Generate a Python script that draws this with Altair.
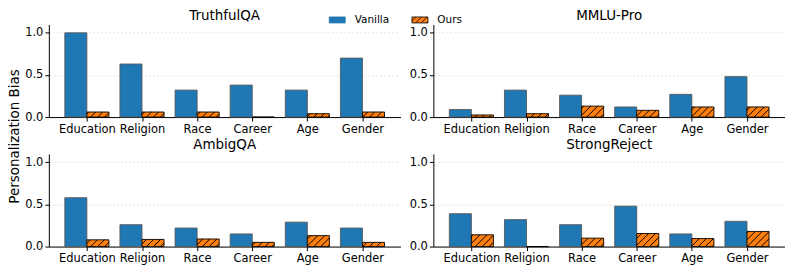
import json
import math
import altair as alt
import pandas as pd

# ---------------- data ----------------
categories = ["Education", "Religion", "Race", "Career", "Age", "Gender"]
methods = ["Vanilla", "Ours"]
datasets = ["TruthfulQA", "MMLU-Pro", "AmbigQA", "StrongReject"]

truthfulqa_vanilla = [1.00, 0.63, 0.32, 0.38, 0.32, 0.70]
truthfulqa_ours = [0.06, 0.06, 0.06, 0.00, 0.04, 0.06]

mmlupro_vanilla = [0.09, 0.32, 0.26, 0.12, 0.27, 0.48]
mmlupro_ours = [0.025, 0.04, 0.13, 0.08, 0.12, 0.12]

ambigqa_vanilla = [0.58, 0.26, 0.22, 0.15, 0.29, 0.22]
ambigqa_ours = [0.08, 0.085, 0.09, 0.05, 0.13, 0.05]

strongreject_vanilla = [0.39, 0.32, 0.26, 0.48, 0.15, 0.30]
strongreject_ours = [0.14, 0.00, 0.10, 0.155, 0.095, 0.18]

y_ticks = [0.0, 0.5, 1.0]
y_title = "Personalization Bias"

# ---------------- layout / style ----------------
W, H = 353, 93
BAR_W = 0.4
XMIN, XMAX = -0.69, 5.69
YMAX = 1.1
SX = W / (XMAX - XMIN)
SY = H / YMAX
HATCH_S = 7.0  # px between hatch lines (horizontal)
BLUE, ORANGE = "#1f77b4", "#ff7f0e"
FONT = "DejaVu Sans"

label_expr = json.dumps(categories) + "[datum.value]"


def bar_rows(van, ours):
    rows = []
    for i, (v, o) in enumerate(zip(van, ours)):
        rows.append({"cat": categories[i], "method": methods[0], "value": v,
                     "x0": i - BAR_W, "x1": i})
        rows.append({"cat": categories[i], "method": methods[1], "value": o,
                     "x0": i, "x1": i + BAR_W})
    return pd.DataFrame(rows)


def hatch_rows(ours):
    rows = []
    for i, h in enumerate(ours):
        X0 = (i - XMIN) * SX
        X1 = X0 + BAR_W * SX
        Yh = h * SY
        kmin = math.floor((X0 - Yh) / HATCH_S)
        kmax = math.ceil(X1 / HATCH_S)
        for k in range(kmin, kmax + 1):
            c = k * HATCH_S
            a = max(X0, c)
            b = min(X1, Yh + c)
            if b - a > 0.6:
                rows.append({"hx0": a / SX + XMIN, "hx1": b / SX + XMIN,
                             "hy0": (a - c) / SY, "hy1": (b - c) / SY})
    if not rows:
        rows.append({"hx0": 0, "hx1": 0, "hy0": 0, "hy1": 0})
    return pd.DataFrame(rows)


van_path = "M-1,-0.375H1V0.375H-1Z"
ours_path = ("M-1,-0.375H1V0.375H-1Z"
             "M-1,0.125L-0.5,-0.375"
             "M-0.55,0.375L0.2,-0.375"
             "M0.15,0.375L0.9,-0.375"
             "M0.85,0.375L1,0.225")

legend = alt.Legend(
    title=None, orient="none", legendX=281, legendY=-13, direction="horizontal",
    symbolSize=256, symbolOpacity=1, symbolStrokeWidth=0.8,
    labelFont=FONT, labelFontSize=10.5, labelColor="black",
    labelOffset=9, columnPadding=20,
)


def panel(title, van, ours, show_ytitle):
    xs = alt.Scale(domain=[XMIN, XMAX], nice=False, zero=False, padding=0)
    ys = alt.Scale(domain=[0, YMAX], nice=False, padding=0)
    xaxis = alt.Axis(values=list(range(len(categories))), labelExpr=label_expr,
                     title=None, grid=False)
    if show_ytitle:
        yaxis = alt.Axis(values=y_ticks, format=".1f", title=y_title, grid=True,
                         gridDash=[2, 2], gridColor="#dddddd", gridWidth=0.8,
                         titleX=-27, titleY=112)
    else:
        yaxis = alt.Axis(values=y_ticks, format=".1f", title=None, grid=True,
                         gridDash=[2, 2], gridColor="#dddddd", gridWidth=0.8)
    fill = alt.Fill("method:N", scale=alt.Scale(domain=methods, range=[BLUE, ORANGE]),
                    legend=legend)
    bars = alt.Chart(bar_rows(van, ours)).mark_bar(strokeWidth=0.9).encode(
        x=alt.X("x0:Q", scale=xs, axis=xaxis),
        x2="x1:Q",
        y=alt.Y("value:Q", scale=ys, axis=yaxis),
        y2=alt.datum(0),
        fill=fill,
        stroke=alt.condition(alt.datum.method == "Ours", alt.value("black"),
                             alt.value("#5a5a5a")),
    )
    hatch = alt.Chart(hatch_rows(ours)).mark_rule(color="black", strokeWidth=1.0).encode(
        x=alt.X("hx0:Q", scale=xs, axis=xaxis),
        x2="hx1:Q",
        y=alt.Y("hy0:Q", scale=ys, axis=yaxis),
        y2="hy1:Q",
    )
    # invisible layer that only feeds the legend (custom symbol shapes)
    key = alt.Chart(pd.DataFrame({"method": methods, "kx": [0, 0], "ky": [0, 0]})).mark_point(
        filled=True, opacity=0
    ).encode(
        x=alt.X("kx:Q", scale=xs, axis=xaxis),
        y=alt.Y("ky:Q", scale=ys, axis=yaxis),
        fill=fill,
        shape=alt.Shape("method:N", scale=alt.Scale(domain=methods, range=[van_path, ours_path]),
                        legend=legend),
        stroke=alt.Stroke("method:N", scale=alt.Scale(domain=methods, range=[BLUE, "black"]),
                          legend=legend),
    )
    return alt.layer(bars, hatch, key, title=title).properties(width=W, height=H)


p1 = panel(datasets[0], truthfulqa_vanilla, truthfulqa_ours, True)
p2 = panel(datasets[1], mmlupro_vanilla, mmlupro_ours, False)
p3 = panel(datasets[2], ambigqa_vanilla, ambigqa_ours, False)
p4 = panel(datasets[3], strongreject_vanilla, strongreject_ours, False)

chart = alt.concat(
    p1, p2, p3, p4, columns=2, spacing={"row": 37, "column": 33}, bounds="flush"
).properties(padding=0).configure_view(stroke=None).configure_axis(
    labelFont=FONT, labelFontSize=11.5, labelColor="black",
    titleFont=FONT, titleFontSize=13.5, titleFontWeight="normal", titleColor="black",
    domainColor="black", domainWidth=1, tickColor="black", tickWidth=1, tickSize=4,
    labelPadding=2,
).configure_title(font=FONT, fontSize=13.5, fontWeight="normal", color="black",
                  offset=2, anchor="middle")

chart.save("out.html", embed_options={"renderer": "svg", "actions": False})
